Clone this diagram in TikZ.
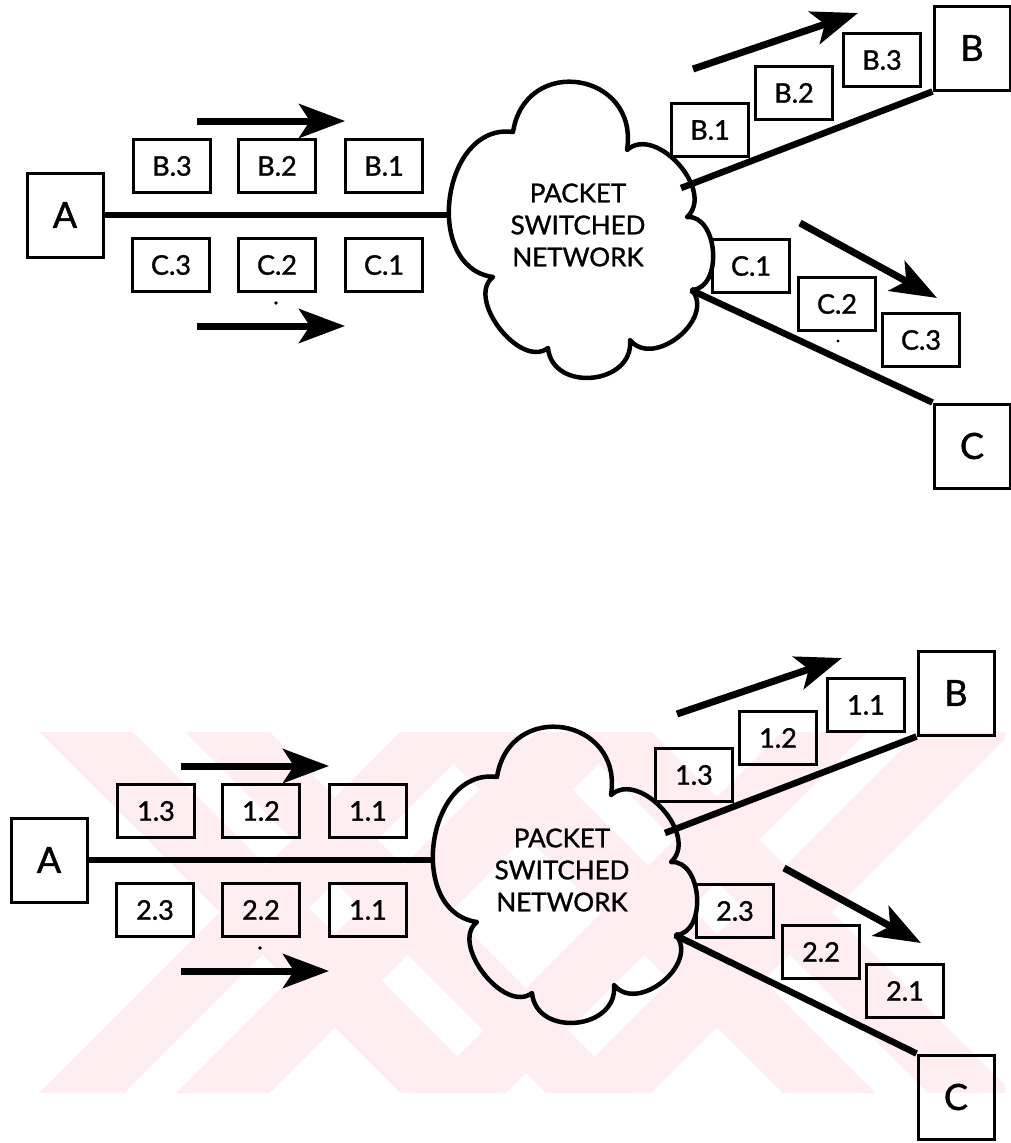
\documentclass[tikz,border=0pt]{standalone}
\usepackage{fontspec}
\setmainfont{Lato}[FakeBold=1.2]
\usetikzlibrary{arrows.meta}
\definecolor{stamp}{RGB}{254,237,241}

\begin{document}
\begin{tikzpicture}[x=1pt, y=-1pt,
    station/.style={draw, line width=3pt, minimum width=76pt, minimum height=84pt, inner sep=0pt, font=\fontsize{36}{36}\selectfont},
    packet/.style={draw, line width=2.6pt, minimum width=77pt, minimum height=53pt, inner sep=0pt, font=\fontsize{27}{27}\selectfont},
    link/.style={line width=6.5pt},
    flow/.style={-{Stealth[length=46pt,width=34pt,inset=11pt]}, line width=7pt},
    netcloud/.style={line width=4.5pt, line join=round},
    netlabel/.style={font=\fontsize{26}{32}\selectfont, align=center}
]
\useasboundingbox (0,0) rectangle (1011,1143);

% pale striped crosses behind the lower drawing
\begin{scope}
    \clip (40,732) rectangle (1005,1093);
    \foreach \cx in {335,717} {
        \foreach \s in {1,-1} {
            \begin{scope}[shift={(\cx,0)}, xscale=\s]
                \fill[stamp] (-295,732) -- (-202,732) -- (159,1093) -- (66,1093) -- cycle;
                \fill[stamp] (-150,732) -- (-65,732) -- (296,1093) -- (211,1093) -- cycle;
            \end{scope}
        }
    }
\end{scope}

% datagram: packets of one host follow their own way
\begin{scope}
    \draw[netcloud] (493,277) to[bend left=90, looseness=1.25] (513,132)
        to[bend left=90, looseness=1.75] (627,150)
        to[bend left=90, looseness=1.1] (687,217)
        to[bend left=90, looseness=1.1] (692,290)
        to[bend left=90, looseness=1.2] (630,340)
        to[bend left=90, looseness=1.4] (548,348)
        to[bend left=90, looseness=1.0] (493,277) -- cycle;
    \node[netlabel] (net1) at (578,225) {PACKET\\SWITCHED\\NETWORK};
    \coordinate (net1w) at (451,215);
    \coordinate (net1b) at (681,188);
    \coordinate (net1c) at (691,290);

    \node[station] (a1) at (65,215) {A};
    \node[station] (b1) at (972,48) {B};
    \node[station] (c1) at (972,446) {C};

    \draw[link] (a1) -- (net1w);
    \draw[link] (net1b) -- (b1.south west);
    \draw[link] (net1c) -- (c1.north west);

    \node[packet] (p1b3) at (172,166) {B.3};
    \node[packet] (p1b2) at (277,166) {B.2};
    \node[packet] (p1b1) at (384,166) {B.1};
    \node[packet] (p1c3) at (171,265) {C.3};
    \node[packet] (p1c2) at (277,265) {C.2};
    \node[packet] (p1c1) at (384,265) {C.1};

    \node[packet] (q1b1) at (710,130) {B.1};
    \node[packet] (q1b2) at (794,93) {B.2};
    \node[packet] (q1b3) at (882,60) {B.3};
    \node[packet] (q1c1) at (751,266) {C.1};
    \node[packet] (q1c2) at (837,304) {C.2};
    \node[packet] (q1c3) at (921,340) {C.3};

    \draw[flow] (197,121) -- (345,121);
    \draw[flow] (197,326) -- (345,326);
    \draw[flow] (693,69) -- (858,13);
    \draw[flow] (800,223) -- (937,298);
    \fill (276,303) circle (1.8pt);
    \fill (838,341) circle (1.6pt);
\end{scope}

% virtual circuit: same network, packets kept in order
\begin{scope}[shift={(-16,645)}]
    \draw[netcloud] (493,277) to[bend left=90, looseness=1.25] (513,132)
        to[bend left=90, looseness=1.75] (627,150)
        to[bend left=90, looseness=1.1] (687,217)
        to[bend left=90, looseness=1.1] (692,290)
        to[bend left=90, looseness=1.2] (630,340)
        to[bend left=90, looseness=1.4] (548,348)
        to[bend left=90, looseness=1.0] (493,277) -- cycle;
    \node[netlabel] (net2) at (578,225) {PACKET\\SWITCHED\\NETWORK};
    \coordinate (net2w) at (451,215);
    \coordinate (net2b) at (681,188);
    \coordinate (net2c) at (691,290);

    \node[station] (a2) at (65,215) {A};
    \node[station] (b2) at (972,48) {B};
    \node[station] (c2) at (972,452) {C};

    \draw[link] (a2) -- (net2w);
    \draw[link] (net2b) -- (b2.south west);
    \draw[link] (net2c) -- (c2.north west);

    \node[packet] (p2b3) at (172,166) {1.3};
    \node[packet] (p2b2) at (277,166) {1.2};
    \node[packet] (p2b1) at (384,166) {1.1};
    \node[packet] (p2c3) at (171,265) {2.3};
    \node[packet] (p2c2) at (277,265) {2.2};
    \node[packet] (p2c1) at (384,265) {1.1};

    \node[packet] (q2b1) at (710,130) {1.3};
    \node[packet] (q2b2) at (794,93) {1.2};
    \node[packet] (q2b3) at (882,60) {1.1};
    \node[packet] (q2c1) at (751,266) {2.3};
    \node[packet] (q2c2) at (837,307) {2.2};
    \node[packet] (q2c3) at (921,346) {2.1};

    \draw[flow] (197,121) -- (345,121);
    \draw[flow] (197,326) -- (345,326);
    \draw[flow] (693,69) -- (858,13);
    \draw[flow] (800,223) -- (937,298);
    \fill (276,303) circle (1.8pt);
\end{scope}
\end{tikzpicture}
\end{document}
